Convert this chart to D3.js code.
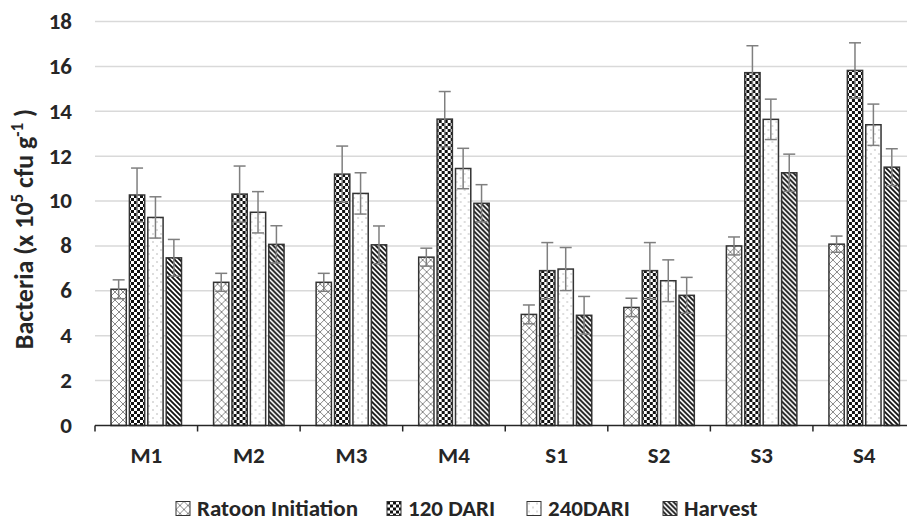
<!DOCTYPE html>
<html><head><meta charset="utf-8">
<script src="https://cdn.jsdelivr.net/npm/d3@7"></script>
<style>html,body{margin:0;padding:0;background:#fff;overflow:hidden}svg{display:block}</style>
</head><body><svg id="chart" width="907" height="520"></svg>
<script>
const categories = ["M1","M2","M3","M4","S1","S2","S3","S4"];
const seriesNames = ["Ratoon Initiation","120 DARI","240DARI","Harvest"];
const ratoon  = [6.07, 6.38, 6.38, 7.50, 4.95, 5.26, 8.00, 8.08];
const dari120 = [10.27, 10.31, 11.20, 13.65, 6.90, 6.90, 15.72, 15.82];
const dari240 = [9.27, 9.50, 10.34, 11.45, 6.97, 6.45, 13.64, 13.40];
const harvest = [7.47, 8.07, 8.05, 9.90, 4.91, 5.80, 11.26, 11.51];
const ratoonErr  = [0.42, 0.40, 0.40, 0.40, 0.42, 0.41, 0.40, 0.36];
const dari120Err = [1.20, 1.25, 1.25, 1.23, 1.25, 1.25, 1.20, 1.23];
const dari240Err = [0.92, 0.92, 0.92, 0.90, 0.96, 0.93, 0.90, 0.92];
const harvestErr = [0.82, 0.83, 0.84, 0.83, 0.84, 0.80, 0.83, 0.82];
const yTicks = [0,2,4,6,8,10,12,14,16,18];

const values = [ratoon, dari120, dari240, harvest];
const errs = [ratoonErr, dari120Err, dari240Err, harvestErr];
const patIds = ["pZig","pChk","pDot","pDiag"];

const svg = d3.select("#chart");
const FONT = "Carlito, Lato, 'Open Sans', sans-serif";
const TXT = "#262626";
const FS = 23;
const defs = svg.append("defs");

// zigzag
const pz = defs.append("pattern").attr("id","pZig").attr("patternUnits","userSpaceOnUse").attr("width",8).attr("height",8);
pz.append("rect").attr("width",8).attr("height",8).attr("fill","#fff");
pz.append("path").attr("d","M0,0 L4,4 L0,8 M8,0 L4,4 L8,8").attr("stroke","#8a8a8a").attr("stroke-width",1).attr("fill","none");
// checkerboard
const pc = defs.append("pattern").attr("id","pChk").attr("patternUnits","userSpaceOnUse").attr("width",6).attr("height",6);
pc.append("rect").attr("width",6).attr("height",6).attr("fill","#fff");
pc.append("rect").attr("width",3).attr("height",3).attr("fill","#111");
pc.append("rect").attr("x",3).attr("y",3).attr("width",3).attr("height",3).attr("fill","#111");
// dots
const pd = defs.append("pattern").attr("id","pDot").attr("patternUnits","userSpaceOnUse").attr("width",8).attr("height",8);
pd.append("rect").attr("width",8).attr("height",8).attr("fill","#fff");
pd.append("rect").attr("x",1.5).attr("y",1.5).attr("width",1).attr("height",1).attr("fill","#777");
pd.append("rect").attr("x",5.5).attr("y",5.5).attr("width",1).attr("height",1).attr("fill","#777");
// diagonal stripes "\"
const pg = defs.append("pattern").attr("id","pDiag").attr("patternUnits","userSpaceOnUse").attr("width",5).attr("height",5);
pg.append("rect").attr("width",5).attr("height",5).attr("fill","#fff");
pg.append("path").attr("d","M-1,-1 L6,6 M-1,4 L1,6 M4,-1 L6,1").attr("stroke","#111").attr("stroke-width",1.8);

const x0 = d3.scaleBand().domain(categories).range([95, 915.5]).padding(0);
const x1 = d3.scaleBand().domain(seriesNames).range([16, 86.5]).paddingInner(0.17);
const y = d3.scaleLinear().domain([0,18]).range([425.5, 21.5]);

// gridlines
svg.append("g").selectAll("line").data(yTicks.filter(t=>t>0)).join("line")
  .attr("x1",95).attr("x2",907).attr("y1",d=>y(d)).attr("y2",d=>y(d))
  .attr("stroke","#d9d9d9").attr("stroke-width",1.5);

// y tick labels
svg.append("g").selectAll("text").data(yTicks).join("text")
  .attr("x",72).attr("y",d=>y(d)).attr("dy","0.32em").attr("text-anchor","end")
  .attr("font-family",FONT).attr("font-weight","bold").attr("font-size",FS).attr("fill",TXT)
  .text(d=>d);

// bars
const gCat = svg.append("g").selectAll("g").data(categories).join("g")
  .attr("transform",d=>`translate(${x0(d)},0)`);
seriesNames.forEach((s,si)=>{
  gCat.append("rect")
    .attr("x",x1(s)).attr("width",x1.bandwidth())
    .attr("y",(d,i)=>y(values[si][i])).attr("height",(d,i)=>y(0)-y(values[si][i]))
    .attr("fill",`url(#${patIds[si]})`).attr("stroke","#333").attr("stroke-width",1.5);
});
// error bars
seriesNames.forEach((s,si)=>{
  const cx = x1(s)+x1.bandwidth()/2;
  const eb = gCat.append("g").attr("stroke","#7f7f7f").attr("stroke-width",1.5);
  eb.append("line").attr("x1",cx).attr("x2",cx)
    .attr("y1",(d,i)=>y(values[si][i]-errs[si][i])).attr("y2",(d,i)=>y(values[si][i]+errs[si][i]));
  eb.append("line").attr("x1",cx-6).attr("x2",cx+6)
    .attr("y1",(d,i)=>y(values[si][i]+errs[si][i])).attr("y2",(d,i)=>y(values[si][i]+errs[si][i]));
  eb.append("line").attr("x1",cx-6).attr("x2",cx+6)
    .attr("y1",(d,i)=>y(values[si][i]-errs[si][i])).attr("y2",(d,i)=>y(values[si][i]-errs[si][i]));
});

// x axis
const xa = svg.append("g").attr("transform",`translate(0,${y(0)})`)
  .call(d3.axisBottom(x0).tickSize(0).tickPadding(21.5));
xa.select(".domain").remove();
xa.selectAll("text").attr("font-family",FONT).attr("font-weight","bold").attr("font-size",FS).attr("fill",TXT);
svg.append("line").attr("x1",95).attr("x2",916).attr("y1",y(0)).attr("y2",y(0)).attr("stroke","#262626").attr("stroke-width",1.5);
svg.append("g").selectAll("line").data(categories.concat(["_end"])).join("line")
  .attr("x1",(d,i)=>i<categories.length? x0(d) : x0.range()[1]).attr("x2",(d,i)=>i<categories.length? x0(d) : x0.range()[1])
  .attr("y1",y(0)).attr("y2",y(0)+6).attr("stroke","#262626").attr("stroke-width",1.5);

// y title
const yt = svg.append("text").attr("transform","translate(33,229) rotate(-90)").attr("text-anchor","middle")
  .attr("font-family",FONT).attr("font-weight","bold").attr("font-size",26).attr("fill",TXT);
yt.append("tspan").text("Bacteria (x 10");
yt.append("tspan").attr("font-size",17).attr("dy",-10).text("5");
yt.append("tspan").attr("dy",10).text(" cfu g");
yt.append("tspan").attr("font-size",17).attr("dy",-10).text("-1");
yt.append("tspan").attr("dy",10).text(" )");

// legend
const legX = [176, 387, 527, 663];
const lg = svg.append("g").selectAll("g").data(seriesNames).join("g")
  .attr("transform",(d,i)=>`translate(${legX[i]},501.5)`);
lg.append("rect").attr("width",14).attr("height",14).attr("fill",(d,i)=>`url(#${patIds[i]})`).attr("stroke","#333").attr("stroke-width",1);
lg.append("text").attr("x",21).attr("y",14).attr("font-family",FONT).attr("font-weight","bold").attr("font-size",FS).attr("fill",TXT).text(d=>d);
</script></body></html>
